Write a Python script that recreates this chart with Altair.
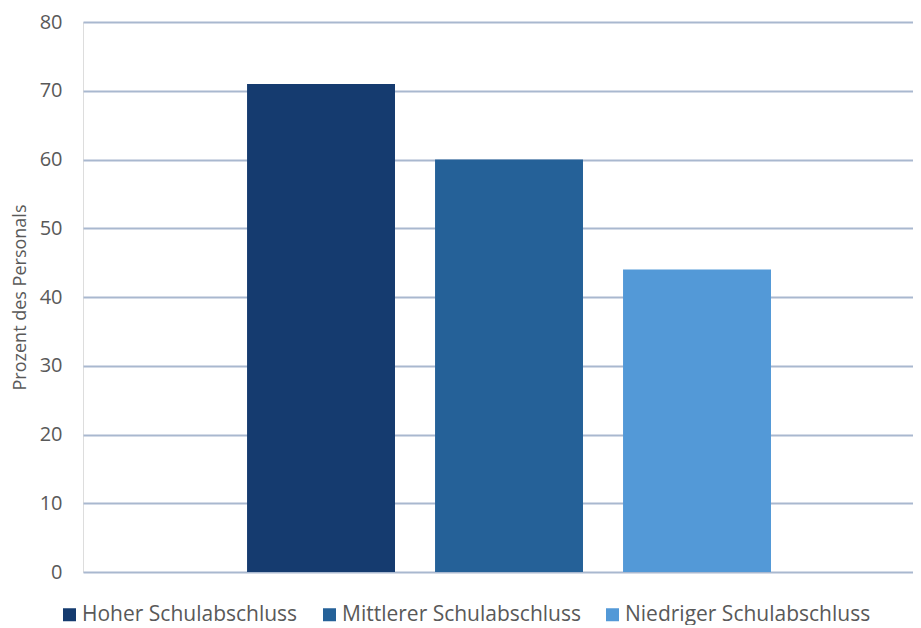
import altair as alt
import pandas as pd

categories = ["Hoher Schulabschluss", "Mittlerer Schulabschluss", "Niedriger Schulabschluss"]
values = [71, 60, 44]
colors = ["#153b6f", "#256198", "#5399d7"]

df = pd.DataFrame({"Abschluss": categories, "Prozent": values})

chart = alt.Chart(df).mark_bar().encode(
    x=alt.X("Abschluss:N", sort=categories,
            scale=alt.Scale(paddingInner=0.213, paddingOuter=0.814, align=0.536),
            axis=alt.Axis(grid=False, domain=False, ticks=False, labels=False, title=None)),
    y=alt.Y("Prozent:Q", scale=alt.Scale(domain=[0, 80], nice=False),
            axis=alt.Axis(values=[0, 10, 20, 30, 40, 50, 60, 70, 80],
                          title="Prozent des Personals", titleFontSize=18,
                          titleFontWeight="normal", titleColor="#595959",
                          titleFont="Open Sans", titlePadding=10,
                          labelFont="Open Sans", labelFontSize=20, labelColor="#595959",
                          labelPadding=21, domain=False, ticks=False,
                          grid=True, gridColor="#a9b8cf", gridWidth=2)),
    color=alt.Color("Abschluss:N", sort=categories,
                    scale=alt.Scale(domain=categories, range=colors),
                    legend=alt.Legend(title=None, orient="none", direction="horizontal",
                                      legendX=-24, legendY=582,
                                      symbolType="square", symbolSize=169,
                                      symbolStrokeWidth=0, symbolOpacity=1,
                                      labelFont="Open Sans", labelFontSize=21,
                                      labelColor="#595959", columnPadding=21,
                                      labelOffset=2, labelLimit=400)),
).properties(width=830, height=550)

chart = (chart.configure_view(stroke=None, fill="white")
         .configure_axis(domain=False)
         .configure(padding={"left": 3, "top": 4, "right": 0, "bottom": 0}))

chart.save("out.html", embed_options={"renderer": "svg", "actions": False})
